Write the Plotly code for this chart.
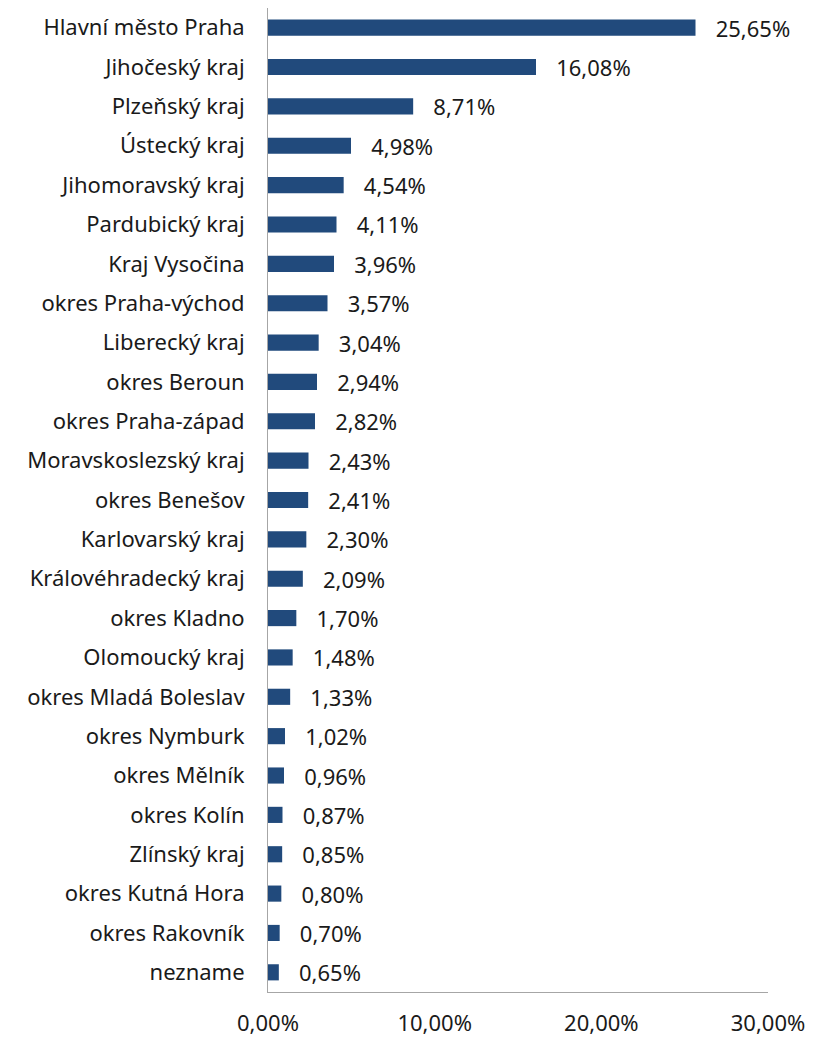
import plotly.graph_objects as go

regions = ["Hlavní město Praha", "Jihočeský kraj", "Plzeňský kraj", "Ústecký kraj",
           "Jihomoravský kraj", "Pardubický kraj", "Kraj Vysočina", "okres Praha-východ",
           "Liberecký kraj", "okres Beroun", "okres Praha-západ", "Moravskoslezský kraj",
           "okres Benešov", "Karlovarský kraj", "Královéhradecký kraj", "okres Kladno",
           "Olomoucký kraj", "okres Mladá Boleslav", "okres Nymburk", "okres Mělník",
           "okres Kolín", "Zlínský kraj", "okres Kutná Hora", "okres Rakovník", "nezname"]
shares = [25.65, 16.08, 8.71, 4.98, 4.54, 4.11, 3.96, 3.57, 3.04, 2.94, 2.82, 2.43,
          2.41, 2.30, 2.09, 1.70, 1.48, 1.33, 1.02, 0.96, 0.87, 0.85, 0.80, 0.70, 0.65]
x_ticks = [0, 10, 20, 30]

labels = ["   " + f"{v:.2f}".replace(".", ",") + "%" for v in shares]
font = "Noto Sans"
fsize = 22

fig = go.Figure(go.Bar(
    x=shares, y=regions, orientation="h",
    marker=dict(color="#214a7c", line=dict(width=0)),
    text=labels, textposition="outside", cliponaxis=False, constraintext="none",
    textfont=dict(family=font, size=fsize, color="#1a1a1a"),
))

# page body has an 8px margin, so the figure is sized to the visible area
fig.update_layout(
    width=805, height=1029,
    margin=dict(l=260, r=45, t=0, b=45),
    plot_bgcolor="white", paper_bgcolor="white",
    bargap=0.59, showlegend=False,
    font=dict(family=font, size=fsize, color="#1a1a1a"),
)
fig.update_xaxes(
    range=[0, 30], tickvals=x_ticks,
    ticktext=[f"{t:.2f}".replace(".", ",") + "%" for t in x_ticks],
    showgrid=False, zeroline=False, showline=True, linecolor="#a6a6a6", linewidth=1,
    ticks="", ticklabelstandoff=12, automargin=False,
)
fig.update_yaxes(
    autorange="reversed", showgrid=False, zeroline=False,
    showline=True, linecolor="#a6a6a6", linewidth=1,
    ticks="", ticklabelstandoff=18, automargin=False,
)

fig.write_html("out.html")
